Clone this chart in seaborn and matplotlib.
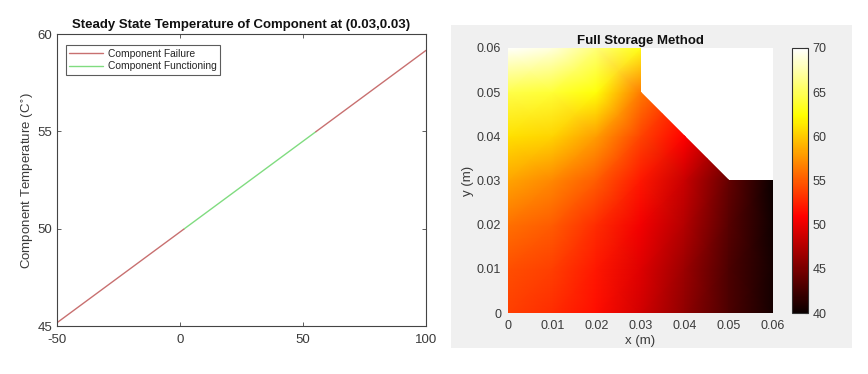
import numpy as np
import pandas as pd
import matplotlib
matplotlib.use("Agg")
import matplotlib.pyplot as plt
import seaborn as sns
from matplotlib.patches import Rectangle, Polygon

sns.set_style("white")
plt.rcParams['font.family'] = ['Liberation Sans', 'DejaVu Sans']
plt.rcParams['axes.unicode_minus'] = False

# Left panel: temperature at (0.03,0.03) vs parameter
fail_low_x = [-50, 1.8]
fail_low_y = [45.17, 50.0]
func_x = [1.8, 55.2]
func_y = [50.0, 54.98]
fail_high_x = [55.2, 100]
fail_high_y = [54.98, 59.16]

# Right panel: temperature field on a 0.01 m grid (rows = y from 0 to 0.06)
grid_x = [0, 0.01, 0.02, 0.03, 0.04, 0.05, 0.06]
grid_y = [0, 0.01, 0.02, 0.03, 0.04, 0.05, 0.06]
temp_y000 = [53.8, 53.0, 51.5, 49.0, 46.0, 43.0, 40.5]
temp_y001 = [54.5, 53.8, 52.0, 49.5, 46.5, 43.0, 40.5]
temp_y002 = [56.0, 55.0, 53.0, 50.5, 47.5, 43.5, 40.3]
temp_y003 = [58.3, 57.0, 55.0, 52.0, 48.5, 44.0, 40.0]
temp_y004 = [61.0, 60.5, 58.0, 54.0, 51.0, 46.0, 42.0]
temp_y005 = [64.5, 64.0, 62.5, 56.5, 52.0, 47.0, 44.0]
temp_y006 = [70.0, 69.0, 66.0, 63.0, 58.0, 52.0, 48.0]
domain_x = [0, 0.06, 0.06, 0.05, 0.03, 0.03, 0]
domain_y = [0, 0, 0.03, 0.03, 0.05, 0.06, 0.06]
grid_ticks = [0, 0.01, 0.02, 0.03, 0.04, 0.05, 0.06]
grid_labels = ["0", "0.01", "0.02", "0.03", "0.04", "0.05", "0.06"]
cbar_ticks = [40, 45, 50, 55, 60, 65, 70]

txt = "#3a3a3a"
fig = plt.figure(figsize=(8.68, 3.74), dpi=100)
fig.patch.set_facecolor("white")

# grey panel behind the right figure
fig.add_artist(Rectangle((0.5196, 0.0695), 0.4620, 0.8636, transform=fig.transFigure,
                         facecolor="#f0f0f0", edgecolor="none", zorder=0))

# ---- left plot
ax1 = fig.add_axes([0.0657, 0.1283, 0.4251, 0.7807])
red = "#c87070"
green = "#80dc80"
sns.lineplot(x=fail_low_x, y=fail_low_y, ax=ax1, color=red, lw=1, label="Component Failure")
sns.lineplot(x=func_x, y=func_y, ax=ax1, color=green, lw=1, label="Component Functioning")
sns.lineplot(x=fail_high_x, y=fail_high_y, ax=ax1, color=red, lw=1)
ax1.set_xlim(-50, 100)
ax1.set_ylim(45, 60)
ax1.set_xticks([-50, 0, 50, 100])
ax1.set_yticks([45, 50, 55, 60])
ax1.tick_params(direction="in", length=3, bottom=True, left=True, top=True, right=True,
                labelsize=9.5, labelcolor=txt, color="#444444", width=0.6)
ax1.tick_params(axis="x", pad=6)
for s in ax1.spines.values():
    s.set_color("#444444")
    s.set_linewidth(0.8)
ax1.set_title("Steady State Temperature of Component at (0.03,0.03)",
              fontsize=9.5, fontweight="bold", color="#111111", pad=4)
ax1.set_ylabel("Component Temperature (C$^{\\circ}$)", fontsize=9.5, color=txt, labelpad=1)
leg = ax1.legend(loc="upper left", fontsize=7.4, frameon=True, fancybox=False,
                 handlelength=3.3, borderpad=0.35, labelspacing=0.25, handletextpad=0.4,
                 borderaxespad=0, bbox_to_anchor=(0.024, 0.962))
leg.get_frame().set_edgecolor("#333333")
leg.get_frame().set_linewidth(0.8)

# ---- right plot
ax2 = fig.add_axes([0.5853, 0.1631, 0.3053, 0.7086])
ax2.set_facecolor("white")
T = np.array([temp_y000, temp_y001, temp_y002, temp_y003, temp_y004, temp_y005, temp_y006])
X, Y = np.meshgrid(grid_x, grid_y)
mesh = ax2.pcolormesh(X, Y, T, shading="gouraud", cmap="hot", vmin=40, vmax=70)
clip = Polygon(np.column_stack([domain_x, domain_y]), closed=True, transform=ax2.transData)
mesh.set_clip_path(clip)
ax2.set_xlim(0, 0.06)
ax2.set_ylim(0, 0.06)
ax2.set_xticks(grid_ticks)
ax2.set_xticklabels(grid_labels)
ax2.set_yticks(grid_ticks)
ax2.set_yticklabels(grid_labels)
ax2.tick_params(length=0, labelsize=9, labelcolor=txt, pad=5)
for s in ax2.spines.values():
    s.set_visible(False)
ax2.set_title("Full Storage Method", fontsize=9.5, fontweight="bold", color="#111111", pad=3)
ax2.set_xlabel("x (m)", fontsize=9.5, color=txt, labelpad=2)
ax2.set_ylabel("y (m)", fontsize=9.5, color=txt, labelpad=2)

cax = fig.add_axes([0.9124, 0.1631, 0.0184, 0.7086])
cb = fig.colorbar(mesh, cax=cax, ticks=cbar_ticks)
cb.outline.set_edgecolor("#333333")
cb.outline.set_linewidth(0.8)
cax.tick_params(direction="in", length=2, labelsize=9, labelcolor=txt, color="#444444")

fig.savefig("out.png", dpi=100)
